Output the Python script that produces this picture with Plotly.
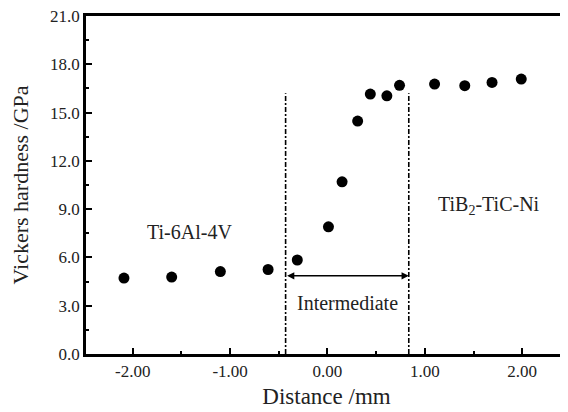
import plotly.graph_objects as go

distance = [-2.09, -1.60, -1.10, -0.61, -0.31, 0.01, 0.15, 0.31, 0.44, 0.61, 0.74, 1.10, 1.41, 1.69, 1.99]
hardness = [4.72, 4.78, 5.12, 5.25, 5.84, 7.90, 10.70, 14.47, 16.15, 16.04, 16.69, 16.77, 16.67, 16.87, 17.08]

zone_bounds = [-0.43, 0.835]
zone_top = 16.2
arrow_y = 4.86

x_tickvals = [-2, -1, 0, 1, 2]
x_ticktext = ["-2.00", "-1.00", "0.00", "1.00", "2.00"]
y_tickvals = [0, 3, 6, 9, 12, 15, 18, 21]
y_ticktext = ["0.0", "3.0", "6.0", "9.0", "12.0", "15.0", "18.0", "21.0"]

labels = ["Ti-6Al-4V", "TiB<sub>2</sub>-TiC-Ni", "Intermediate"]
label_x = [-1.42, 1.66, 0.21]
label_y = [7.55, 9.2, 3.19]

FONT = "Liberation Serif, Times New Roman, serif"
TXT = "#222"

fig = go.Figure()
fig.add_trace(go.Scatter(
    x=distance, y=hardness, mode="markers",
    marker=dict(symbol="circle", size=11, color="black"),
    showlegend=False,
))

for xb in zone_bounds:
    fig.add_shape(type="line", x0=xb, x1=xb, y0=0, y1=zone_top, xref="x", yref="y",
                  line=dict(color="black", width=1.6, dash="5px,2px,2px,2px"))

fig.add_annotation(x=zone_bounds[1], y=arrow_y, ax=zone_bounds[0], ay=arrow_y,
                   xref="x", yref="y", axref="x", ayref="y", text="",
                   showarrow=True, arrowhead=2, arrowside="end+start",
                   arrowsize=0.9, arrowwidth=1.6, arrowcolor="black")

for t, lx, ly in zip(labels, label_x, label_y):
    fig.add_annotation(x=lx, y=ly, xref="x", yref="y", text=t, showarrow=False,
                       font=dict(family=FONT, size=20, color=TXT))

axis_common = dict(showline=True, linecolor="black", linewidth=2.5, mirror=True,
                   ticks="inside", ticklen=6, tickwidth=2, tickcolor="black",
                   showgrid=False, zeroline=False, automargin=False,
                   ticklabeloverflow="allow",
                   tickfont=dict(family=FONT, size=17, color=TXT))

fig.update_xaxes(range=[-2.48, 2.46], tickvals=x_tickvals, ticktext=x_ticktext,
                 minor=dict(ticks="inside", ticklen=3, tickwidth=2, tickcolor="black", dtick=0.5, tick0=0),
                 title=dict(text="Distance /mm", font=dict(family=FONT, size=23, color=TXT), standoff=8),
                 **axis_common)
fig.update_yaxes(range=[0, 21], tickvals=y_tickvals, ticktext=y_ticktext,
                 minor=dict(ticks="inside", ticklen=3, tickwidth=2, tickcolor="black", dtick=1.5, tick0=0),
                 title=dict(text="Vickers hardness /GPa", font=dict(family=FONT, size=22, color=TXT), standoff=16),
                 **axis_common)

# page body has an 8px margin, so the figure is sized to fill the rest of the window
fig.update_layout(width=560, height=404, margin=dict(l=78, r=1, t=8, b=58),
                  plot_bgcolor="white", paper_bgcolor="white")

fig.write_html("out.html")
